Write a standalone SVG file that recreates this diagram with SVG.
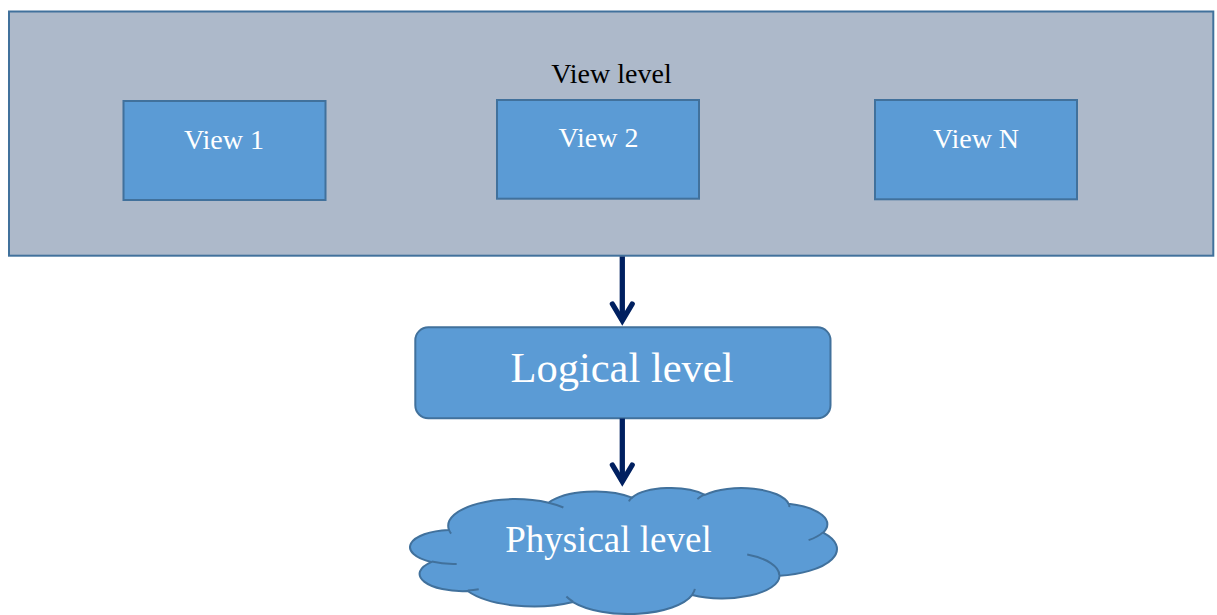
<svg xmlns="http://www.w3.org/2000/svg" width="1217" height="615" viewBox="0 0 1217 615">
  <style>
    .frame { fill: #ADB9CA; stroke: #41719C; stroke-width: 2; }
    .box { fill: #5B9BD5; stroke: #41719C; stroke-width: 2; }
    .lbl { font-family: "Liberation Serif", "Times New Roman", serif; text-anchor: middle; }
    .white { fill: #FFFFFF; }
    .dark { fill: #000000; }
    .flow { fill: none; stroke: #002060; stroke-width: 5.3; }
    .cloud { fill: #5B9BD5; stroke: #41719C; stroke-width: 2; stroke-linejoin: round; }
    .cloud-inner { fill: none; stroke: #41719C; stroke-width: 2; stroke-linecap: butt; }
  </style>
  <defs>
    <marker id="chevron" markerUnits="userSpaceOnUse" orient="auto" refX="0" refY="0"
            markerWidth="30" markerHeight="30" viewBox="-20 -15 30 30" overflow="visible">
      <path d="M -16.5 -9.9 L 0 0 L -16.5 9.9" fill="none" stroke="#002060" stroke-width="5.3"
            stroke-linecap="round" stroke-linejoin="miter"/>
    </marker>
  </defs>

  <!-- container for the external views -->
  <g id="view-level">
    <rect class="frame" x="9" y="11.5" width="1204.3" height="244.2"/>
    <text class="lbl dark" x="611.5" y="83.3" font-size="28">View level</text>
  </g>

  <g id="view-1">
    <rect class="box" x="123.5" y="101" width="202" height="99"/>
    <text class="lbl white" x="224" y="148.5" font-size="28">View 1</text>
  </g>

  <g id="view-2">
    <rect class="box" x="497" y="100" width="202" height="98.7"/>
    <text class="lbl white" x="598.5" y="147.3" font-size="28">View 2</text>
  </g>

  <g id="view-n">
    <rect class="box" x="875" y="100" width="202" height="99.3"/>
    <text class="lbl white" x="976" y="147.7" font-size="28">View N</text>
  </g>

  <g id="logical-level">
    <rect class="box" x="415.3" y="327.3" width="415.2" height="91" rx="13" ry="13"/>
    <text class="lbl white" x="622" y="381.7" font-size="42.5">Logical level</text>
  </g>

  <!-- cloud outline drawn in 43200-unit shape space, scaled into its frame -->
  <g id="physical-level">
    <g transform="translate(410.35 487.6) scale(0.0098704 0.0029155)">
      <path class="cloud" vector-effect="non-scaling-stroke"
            d="M 3900 14370
               A 6753 9190 0 0 1 14005.2 5202.2
               A 5333 7267 0 0 1 22456.2 3432.2
               A 4365 5945 0 0 1 29833.2 2481
               A 4857 6595 0 0 1 38318.4 5576.1
               A 5333 7273 0 0 1 41818.6 15459.9
               A 6775 9220 0 0 1 37404.7 30203.3
               A 5785 7867 0 0 1 28556.4 36813.5
               A 6752 9215 0 0 1 16480.9 39264.2
               A 7720 10543 0 0 1 5805.2 35470.1
               A 4360 5918 0 0 1 2113.8 25548.4
               A 4345 5945 0 0 1 3864.8 14504.6 Z"/>
      <path class="cloud-inner" vector-effect="non-scaling-stroke"
            d="M 4693 26177 A 4345 5945 0 0 1 2159.8 25380
               M 6928 34899 A 4360 5918 0 0 1 5819.6 35280.4
               M 16478 39090 A 6752 9215 0 0 1 15810.2 37350
               M 28827 34751 A 6752 9215 0 0 1 28560.4 36660.3
               M 34129 22954 A 5785 7867 0 0 1 37380.5 30089.6
               M 41798 15354 A 5333 7273 0 0 1 40350.3 18029.6
               M 38324 5426 A 4857 6595 0 0 1 38400.4 6689.7
               M 29078 3952 A 4857 6595 0 0 1 29819.7 2340.4
               M 22141 4720 A 4365 5945 0 0 1 22500.3 3330.1
               M 14000 5192 A 6753 9190 0 0 1 15505 6825
               M 4127 15789 A 6753 9190 0 0 1 3900 14370"/>
    </g>
    <text class="lbl white" x="608.4" y="552" font-size="37">Physical level</text>
  </g>

  <g id="connectors">
    <line class="flow" x1="622.3" y1="256.5" x2="622.3" y2="320.5" marker-end="url(#chevron)"/>
    <line class="flow" x1="622.3" y1="418.5" x2="622.3" y2="481.5" marker-end="url(#chevron)"/>
  </g>
</svg>
